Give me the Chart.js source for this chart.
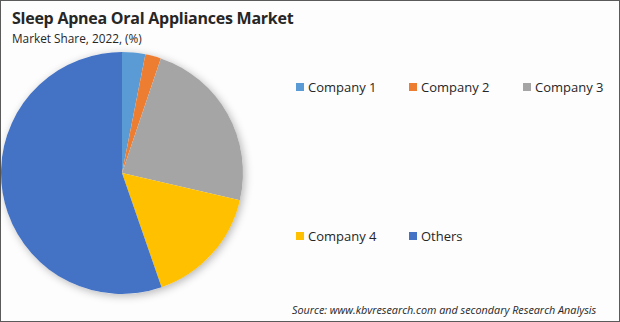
<!DOCTYPE html>
<html>
<head>
<meta charset="utf-8">
<script src="https://cdn.jsdelivr.net/npm/chart.js@4"></script>
<style>
  html, body { margin: 0; padding: 0; }
  body {
    width: 620px; height: 322px; position: relative; overflow: hidden;
    background: #fdfdfd; font-family: "Open Sans", "Noto Sans", sans-serif; color: #262626;
  }
  #frame { position: absolute; left: 0; top: 0; width: 618px; height: 320px; border: 1px solid #5a5a5a; }
  #title { position: absolute; left: 12px; top: 7px; font-size: 16px; letter-spacing: -0.25px; font-weight: bold; color: #262626; }
  #subtitle { position: absolute; left: 12px; top: 30px; font-size: 11.8px; color: #262626; }
  #pieWrap { position: absolute; left: -10px; top: 41px; width: 264px; height: 264px; }
  #legend { position: absolute; left: 296px; top: 0; }
  .item { position: absolute; white-space: nowrap; font-size: 13px; line-height: 16px; }
  .box { display: inline-block; width: 8px; height: 8px; margin-right: 4px; vertical-align: 1px; }
  #source { position: absolute; left: 292px; top: 302px; font-size: 10.8px; font-style: italic; color: #262626; }
</style>
</head>
<body>
<div id="frame"></div>
<div id="title">Sleep Apnea Oral Appliances Market</div>
<div id="subtitle">Market Share, 2022, (%)</div>
<div id="pieWrap"><canvas id="pieChart"></canvas></div>
<div id="legend"></div>
<div id="source">Source: www.kbvresearch.com and secondary Research Analysis</div>
<script>
// Data
const categories = ['Company 1', 'Company 2', 'Company 3', 'Company 4', 'Others'];
const shares = [3.1, 2.1, 23.4, 16.1, 55.3];
const sliceColors = ['#5B9BD5', '#ED7D31', '#A5A5A5', '#FFC000', '#4472C4'];

// legend grid: 3 columns, 2 rows
const legendCols = [0, 113, 227];
const legendRows = [79, 228];

document.addEventListener('DOMContentLoaded', function() {
    const legend = document.getElementById('legend');
    categories.forEach(function(name, i) {
        const item = document.createElement('div');
        item.className = 'item';
        item.style.left = legendCols[i % 3] + 'px';
        item.style.top = legendRows[Math.floor(i / 3)] + 'px';
        item.innerHTML = '<span class="box" style="background:' + sliceColors[i] + '"></span>' + name;
        legend.appendChild(item);
    });

    // soft shadow under the whole pie
    const pieShadow = {
        id: 'pieShadow',
        beforeDatasetsDraw(chart) {
            const arc = chart.getDatasetMeta(0).data[0];
            if (!arc) return;
            const ctx = chart.ctx;
            ctx.save();
            ctx.shadowColor = 'rgba(0,0,0,0.28)';
            ctx.shadowBlur = 9;
            ctx.shadowOffsetX = 2;
            ctx.shadowOffsetY = 2;
            ctx.fillStyle = '#ffffff';
            ctx.beginPath();
            ctx.arc(arc.x, arc.y, arc.outerRadius, 0, Math.PI * 2);
            ctx.fill();
            ctx.restore();
        }
    };

    new Chart(document.getElementById('pieChart'), {
        type: 'pie',
        data: {
            labels: categories,
            datasets: [{
                data: shares,
                backgroundColor: sliceColors,
                borderWidth: 0,
            }],
        },
        options: {
            responsive: true,
            maintainAspectRatio: false,
            animation: false,
            layout: { padding: 11 },
            plugins: {
                legend: { display: false },
                tooltip: { enabled: false },
            },
        },
        plugins: [pieShadow],
    });
});
</script>
</body>
</html>
